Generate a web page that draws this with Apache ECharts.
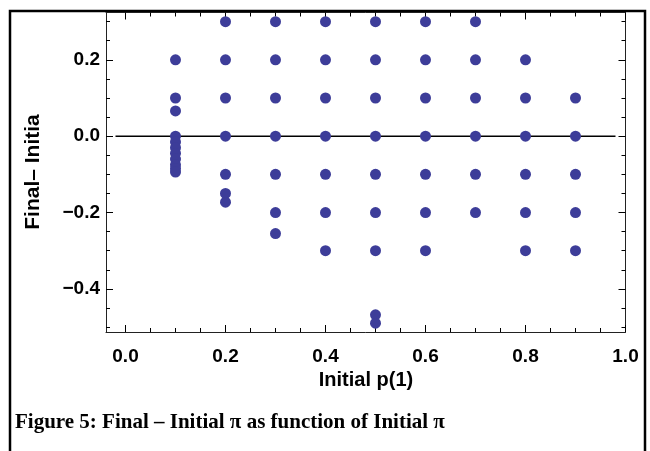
<!DOCTYPE html>
<html>
<head>
<meta charset="utf-8">
<script src="https://cdn.jsdelivr.net/npm/echarts@6/dist/echarts.min.js"></script>
<style>
html,body{margin:0;padding:0;background:#fff;}
#chart{width:650px;height:451px;}
</style>
</head>
<body>
<div id="chart"></div>
<script>
// Data
const initialP = [0.1, 0.2, 0.3, 0.4, 0.5, 0.6, 0.7, 0.8, 0.9];
const diff01 = [0.2, 0.1, 0.066, 0, -0.015, -0.03, -0.045, -0.06, -0.075, -0.085, -0.094];
const diff02 = [0.3, 0.2, 0.1, 0, -0.1, -0.15, -0.173];
const diff03 = [0.3, 0.2, 0.1, 0, -0.1, -0.2, -0.255];
const diff04 = [0.3, 0.2, 0.1, 0, -0.1, -0.2, -0.3];
const diff05 = [0.3, 0.2, 0.1, 0, -0.1, -0.2, -0.3, -0.468, -0.49];
const diff06 = [0.3, 0.2, 0.1, 0, -0.1, -0.2, -0.3];
const diff07 = [0.3, 0.2, 0.1, 0, -0.1, -0.2];
const diff08 = [0.2, 0.1, 0, -0.1, -0.2, -0.3];
const diff09 = [0.1, 0, -0.1, -0.2, -0.3];
const diffColumns = [diff01, diff02, diff03, diff04, diff05, diff06, diff07, diff08, diff09];

const xMajorTicks = [0, 0.2, 0.4, 0.6, 0.8, 1.0];
const xMinorTicks = [0.05, 0.1, 0.15, 0.25, 0.3, 0.35, 0.45, 0.5, 0.55, 0.65, 0.7, 0.75, 0.85, 0.9, 0.95];
const yMajorTicks = [-0.4, -0.2, 0, 0.2];
const yMinorTicks = [-0.5, -0.45, -0.35, -0.3, -0.25, -0.15, -0.1, -0.05, 0.05, 0.1, 0.15, 0.25, 0.3];
const zeroLine = [[-0.02, 0], [0.98, 0]];

const xRange = [-0.039, 1.0];
const yRange = [-0.513, 0.324];

const points = [];
initialP.forEach(function (x, i) {
  diffColumns[i].forEach(function (y) { points.push([x, y]); });
});

const fmt = function (v) {
  return Number(v).toFixed(1).replace('-', '\u2212');
};
const labelFont = { fontFamily: 'Liberation Sans', fontWeight: 'bold', fontSize: 19, color: '#000' };

function xAxisDef(pos, ticks, len, showLine, showLabel) {
  return {
    type: 'value', position: pos, min: xRange[0], max: xRange[1],
    axisLine: { show: showLine, onZero: false, lineStyle: { color: '#222', width: 1 } },
    axisTick: { show: true, inside: true, length: len, customValues: ticks, lineStyle: { color: '#000', width: 1 } },
    axisLabel: Object.assign({ show: showLabel, customValues: ticks, margin: 15, formatter: fmt }, labelFont),
    splitLine: { show: false }
  };
}
function yAxisDef(pos, ticks, len, showLine, showLabel) {
  return {
    type: 'value', position: pos, min: yRange[0], max: yRange[1],
    axisLine: { show: showLine, onZero: false, lineStyle: { color: '#222', width: 1 } },
    axisTick: { show: true, inside: true, length: len, customValues: ticks, lineStyle: { color: '#000', width: 1 } },
    axisLabel: Object.assign({ show: showLabel, customValues: ticks, margin: 6, formatter: fmt }, labelFont),
    splitLine: { show: false }
  };
}

const chart = echarts.init(document.getElementById('chart'), null, { renderer: 'canvas' });
chart.setOption({
  animation: false,
  backgroundColor: '#fff',
  grid: { left: 106, top: 12.5, right: 24.5, bottom: 119, containLabel: false },
  xAxis: [
    xAxisDef('bottom', xMajorTicks, 7, true, true),
    xAxisDef('bottom', xMinorTicks, 4, false, false),
    xAxisDef('top', xMajorTicks, 7, true, false),
    xAxisDef('top', xMinorTicks, 4, false, false)
  ],
  yAxis: [
    yAxisDef('left', yMajorTicks, 7, true, true),
    yAxisDef('left', yMinorTicks, 4, false, false),
    yAxisDef('right', yMajorTicks, 7, true, false),
    yAxisDef('right', yMinorTicks, 4, false, false)
  ],
  series: [
    {
      type: 'line', data: zeroLine, xAxisIndex: 0, yAxisIndex: 0,
      symbol: 'none', lineStyle: { color: '#000', width: 1.6 }, z: 1, silent: true
    },
    {
      type: 'scatter', data: points, xAxisIndex: 0, yAxisIndex: 0,
      symbol: 'circle', symbolSize: 11,
      itemStyle: { color: '#3d3d99', opacity: 1 }, z: 2
    }
  ],
  graphic: [
    {
      type: 'rect', left: 7.5, top: 8.5,
      shape: { x: 0, y: 0, width: 635, height: 460 },
      style: { fill: 'none', stroke: '#000', lineWidth: 2.5 }, z: 0
    },
    {
      type: 'text', x: 33, y: 172, rotation: Math.PI / 2,
      style: { text: 'Final\u2013 Initia', fontFamily: 'Liberation Sans', fontWeight: 'bold', fontSize: 21, fill: '#000', align: 'center', verticalAlign: 'middle' }
    },
    {
      type: 'text', x: 366, y: 380,
      style: { text: 'Initial p(1)', fontFamily: 'Liberation Sans', fontWeight: 'bold', fontSize: 20, fill: '#000', align: 'center', verticalAlign: 'middle' }
    },
    {
      type: 'text', x: 15, y: 423,
      style: { text: 'Figure 5: Final \u2013 Initial \u03c0 as function of Initial \u03c0', fontFamily: 'Liberation Serif', fontWeight: 'bold', fontSize: 21, fill: '#000', align: 'left', verticalAlign: 'middle' }
    }
  ]
});
</script>
</body>
</html>
